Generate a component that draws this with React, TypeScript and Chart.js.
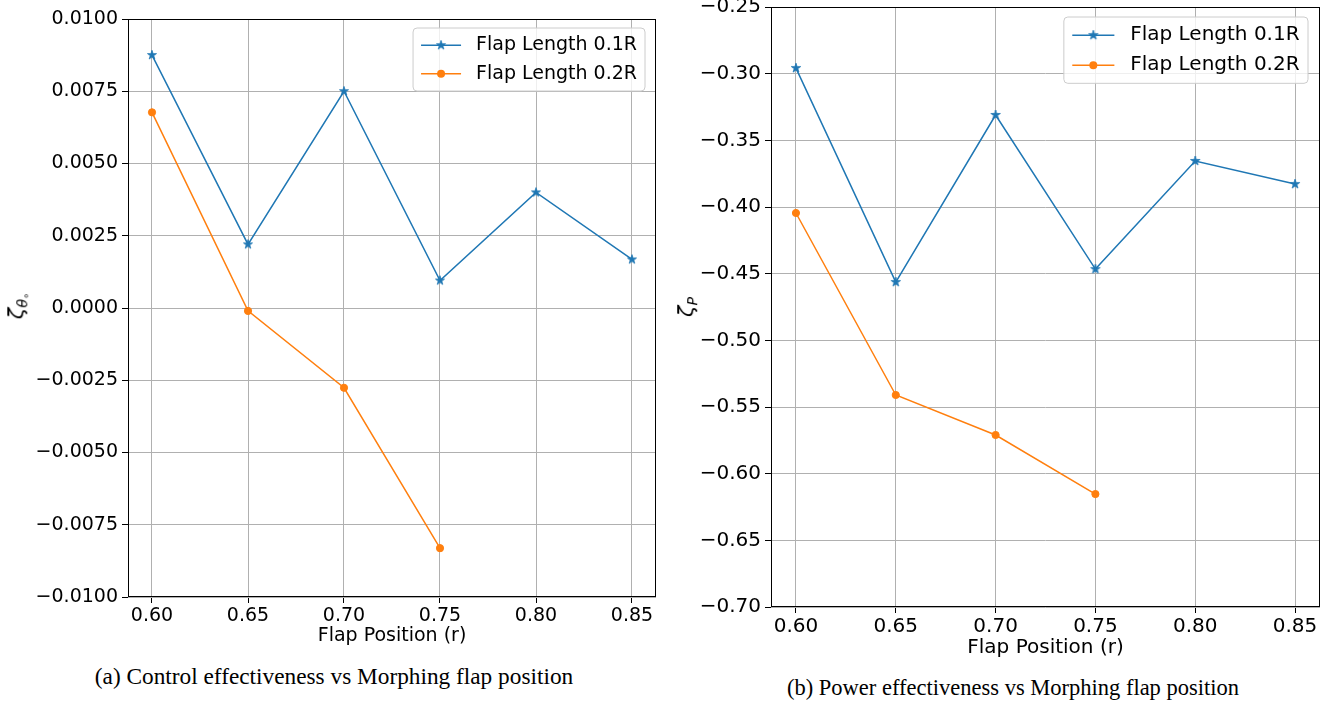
import React, { useEffect, useRef } from 'react';
import { Chart, registerables } from 'chart.js';

Chart.register(...registerables);

// ---------------- data ----------------
const flapPositions = [0.6, 0.65, 0.7, 0.75, 0.8, 0.85];
const controlFlap01 = [0.00875, 0.0022, 0.0075, 0.00095, 0.004, 0.00168];
const controlFlap02 = [0.00677, -0.0001, -0.00276, -0.00831];
const powerFlap01 = [-0.2958, -0.4563, -0.331, -0.4466, -0.3655, -0.3828];
const powerFlap02 = [-0.4045, -0.541, -0.571, -0.6153];
const seriesLabels = ['Flap Length 0.1R', 'Flap Length 0.2R'];
const xTicks = [0.6, 0.65, 0.7, 0.75, 0.8, 0.85];
const controlYTicks = [-0.01, -0.0075, -0.005, -0.0025, 0, 0.0025, 0.005, 0.0075, 0.01];
const powerYTicks = [-0.7, -0.65, -0.6, -0.55, -0.5, -0.45, -0.4, -0.35, -0.3, -0.25];
const xAxisLabel = 'Flap Position (r)';
const captionA = '(a) Control effectiveness vs Morphing flap position';
const captionB = '(b) Power effectiveness vs Morphing flap position';

const BLUE = '#1f77b4';
const ORANGE = '#ff7f0e';
const FONT = '"DejaVu Sans", sans-serif';

function makeStar(color: string, R: number): HTMLCanvasElement {
  const c = document.createElement('canvas');
  const size = 14;
  c.width = size;
  c.height = size;
  const g = c.getContext('2d')!;
  const cx = size / 2, cy = size / 2;
  const r = R * 0.382;
  g.beginPath();
  for (let i = 0; i < 10; i++) {
    const rad = i % 2 === 0 ? R : r;
    const a = -Math.PI / 2 + (i * Math.PI) / 5;
    const px = cx + rad * Math.cos(a);
    const py = cy + rad * Math.sin(a);
    if (i === 0) g.moveTo(px, py);
    else g.lineTo(px, py);
  }
  g.closePath();
  g.fillStyle = color;
  g.fill();
  g.strokeStyle = color;
  g.lineWidth = 0.8;
  g.stroke();
  return c;
}

function fmt(v: number, d: number): string {
  const s = Math.abs(v) < 1e-12 ? (0).toFixed(d) : v.toFixed(d);
  return s.replace('-', '\u2212');
}

interface PanelProps {
  left: number;
  width: number;
  height: number;
  pad: { top: number; right: number };
  yAxisWidth: number;
  xAxisHeight: number;
  titlePadBottom: number;
  yMin: number;
  yMax: number;
  yTicks: number[];
  decimals: number;
  s1: number[];
  s2: number[];
  legendOffset: { right: number; top: number };
  fontSize: number;
  starR: number;
}

function Panel(p: PanelProps) {
  const ref = useRef<HTMLCanvasElement | null>(null);
  useEffect(() => {
    const canvas = ref.current!;
    const star = makeStar(BLUE, p.starR);
    const pts = (ys: number[]) => ys.map((y, i) => ({ x: flapPositions[i], y }));
    const fs = p.fontSize;

    const framePlugin = {
      id: 'frameAndLegend',
      afterDraw(chart: any) {
        const ctx = chart.ctx as CanvasRenderingContext2D;
        const a = chart.chartArea;
        ctx.save();
        // spines
        ctx.strokeStyle = '#000';
        ctx.lineWidth = 1;
        ctx.strokeRect(a.left + 0.5, a.top + 0.5, a.right - a.left - 1, a.bottom - a.top - 1);
        // legend
        ctx.font = `${fs}px ${FONT}`;
        const ds = chart.data.datasets;
        const textW = Math.max(...ds.map((d: any) => ctx.measureText(d.label).width));
        const k = fs / 19;
        const padX = 8 * k, lineLen = 40 * k, gap = 15 * k, rowH = 28.5 * k, padY = 3 * k;
        const w = padX + lineLen + gap + textW + padX;
        const h = padY * 2 + rowH * ds.length;
        const x = a.right - p.legendOffset.right - w;
        const y = a.top + p.legendOffset.top;
        const rr = 4;
        ctx.beginPath();
        ctx.moveTo(x + rr, y);
        ctx.lineTo(x + w - rr, y);
        ctx.arcTo(x + w, y, x + w, y + rr, rr);
        ctx.lineTo(x + w, y + h - rr);
        ctx.arcTo(x + w, y + h, x + w - rr, y + h, rr);
        ctx.lineTo(x + rr, y + h);
        ctx.arcTo(x, y + h, x, y + h - rr, rr);
        ctx.lineTo(x, y + rr);
        ctx.arcTo(x, y, x + rr, y, rr);
        ctx.closePath();
        ctx.fillStyle = 'rgba(255,255,255,0.8)';
        ctx.fill();
        ctx.strokeStyle = '#cccccc';
        ctx.lineWidth = 1;
        ctx.stroke();
        ds.forEach((d: any, i: number) => {
          const cy = y + padY + rowH * (i + 0.5);
          const lx = x + padX;
          ctx.strokeStyle = d.borderColor;
          ctx.lineWidth = 1.5;
          ctx.beginPath();
          ctx.moveTo(lx, cy);
          ctx.lineTo(lx + lineLen, cy);
          ctx.stroke();
          const mx = lx + lineLen / 2;
          if (d.pointStyle === 'circle') {
            ctx.fillStyle = d.pointBackgroundColor;
            ctx.beginPath();
            ctx.arc(mx, cy, 4, 0, Math.PI * 2);
            ctx.fill();
          } else {
            ctx.drawImage(star, mx - star.width / 2, cy - star.height / 2);
          }
          ctx.fillStyle = '#000';
          ctx.textBaseline = 'middle';
          ctx.textAlign = 'left';
          ctx.fillText(d.label, lx + lineLen + gap, cy);
        });
        ctx.restore();
      },
    };

    const chart = new Chart(canvas, {
      type: 'line',
      data: {
        datasets: [
          {
            label: seriesLabels[0],
            data: pts(p.s1),
            borderColor: BLUE,
            backgroundColor: BLUE,
            borderWidth: 1.5,
            pointStyle: star as any,
            pointRadius: 5,
            pointBackgroundColor: BLUE,
            pointBorderColor: BLUE,
            tension: 0,
            fill: false,
          },
          {
            label: seriesLabels[1],
            data: pts(p.s2),
            borderColor: ORANGE,
            backgroundColor: ORANGE,
            borderWidth: 1.5,
            pointStyle: 'circle',
            pointRadius: 3.6,
            pointBorderWidth: 1,
            pointBackgroundColor: ORANGE,
            pointBorderColor: ORANGE,
            tension: 0,
            fill: false,
          },
        ],
      },
      options: {
        animation: false,
        responsive: false,
        devicePixelRatio: 1,
        layout: { padding: { left: 0, top: p.pad.top, right: p.pad.right, bottom: 0 } },
        plugins: { legend: { display: false }, tooltip: { enabled: false }, title: { display: false } },
        scales: {
          x: {
            type: 'linear',
            min: 0.5875,
            max: 0.8625,
            border: { display: false },
            grid: { color: '#b0b0b0', lineWidth: 1, tickColor: '#000', tickLength: 6, drawTicks: true },
            ticks: {
              color: '#000',
              font: { family: FONT, size: fs },
              padding: 2,
              maxRotation: 0,
              callback: (v: any) => fmt(Number(v), 2),
            },
            title: {
              display: true,
              text: xAxisLabel,
              color: '#000',
              font: { family: FONT, size: fs },
              padding: { top: 0, bottom: p.titlePadBottom },
            },
            afterBuildTicks: (s: any) => {
              s.ticks = xTicks.map((v) => ({ value: v }));
            },
            afterFit: (s: any) => {
              s.height = p.xAxisHeight;
              s.paddingLeft = 0;
              s.paddingRight = 0;
            },
          },
          y: {
            type: 'linear',
            min: p.yMin,
            max: p.yMax,
            border: { display: false },
            grid: { color: '#b0b0b0', lineWidth: 1, tickColor: '#000', tickLength: 6, drawTicks: true },
            ticks: {
              color: '#000',
              font: { family: FONT, size: fs },
              padding: 4,
              callback: (v: any) => fmt(Number(v), p.decimals),
            },
            afterBuildTicks: (s: any) => {
              s.ticks = p.yTicks.map((v) => ({ value: v }));
            },
            afterFit: (s: any) => {
              s.width = p.yAxisWidth;
              s.paddingTop = 0;
              s.paddingBottom = 0;
            },
          },
        },
      } as any,
      plugins: [framePlugin],
    });
    return () => chart.destroy();
  }, []);
  return (
    <canvas
      ref={ref}
      width={p.width}
      height={p.height}
      style={{ position: 'absolute', left: p.left, top: 0, width: p.width, height: p.height }}
    />
  );
}

function RotLabel({ cx, cy, main, sub, subsub, size }: { cx: number; cy: number; main: string; sub: string; subsub?: string; size: number }) {
  return (
    <div
      style={{
        position: 'absolute',
        left: cx,
        top: cy,
        transform: 'translate(-50%, -50%) rotate(-90deg)',
        whiteSpace: 'nowrap',
        fontFamily: FONT,
        fontStyle: 'italic',
        fontSize: size,
        lineHeight: 1,
        color: '#000',
      }}
    >
      {main}
      <sub style={{ fontSize: size * 0.68, verticalAlign: '-0.3em' }}>
        {sub}
        {subsub ? <sub style={{ fontSize: size * 0.48, fontStyle: 'normal', verticalAlign: '-0.2em' }}>{subsub}</sub> : null}
      </sub>
    </div>
  );
}

function Caption({ cx, cy, text, size }: { cx: number; cy: number; text: string; size: number }) {
  return (
    <div
      style={{
        position: 'absolute',
        left: cx,
        top: cy,
        transform: 'translate(-50%, -50%)',
        whiteSpace: 'nowrap',
        fontFamily: '"Liberation Serif", "Times New Roman", serif',
        fontSize: size,
        lineHeight: 1,
        color: '#000',
      }}
    >
      {text}
    </div>
  );
}

export default function App() {
  return (
    <div style={{ position: 'fixed', left: 0, top: 0, width: 1333, height: 704, background: '#fff', overflow: 'hidden' }}>
      <Panel
        left={0}
        width={665}
        height={650}
        pad={{ top: 19, right: 9 }}
        yAxisWidth={128}
        xAxisHeight={53}
        titlePadBottom={3}
        yMin={-0.01}
        yMax={0.01}
        yTicks={controlYTicks}
        decimals={4}
        s1={controlFlap01}
        s2={controlFlap02}
        legendOffset={{ right: 11, top: 9 }}
        fontSize={19}
        starR={4.8}
      />
      <Panel
        left={665}
        width={668}
        height={665}
        pad={{ top: 7, right: 13 }}
        yAxisWidth={106}
        xAxisHeight={58}
        titlePadBottom={5}
        yMin={-0.7}
        yMax={-0.25}
        yTicks={powerYTicks}
        decimals={2}
        s1={powerFlap01}
        s2={powerFlap02}
        legendOffset={{ right: 12, top: 10 }}
        fontSize={20}
        starR={5}
      />
      <RotLabel cx={19} cy={306} main={'ζ'} sub={'θ'} subsub={'∘'} size={21} />
      <RotLabel cx={688} cy={307} main={'ζ'} sub={'P'} size={21} />
      <Caption cx={334} cy={677} text={captionA} size={23.3} />
      <Caption cx={1013} cy={688} text={captionB} size={22.5} />
    </div>
  );
}
